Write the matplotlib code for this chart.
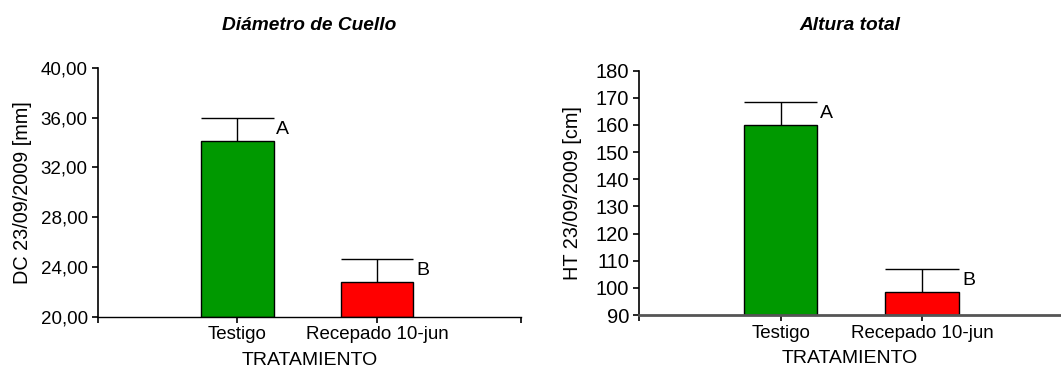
import matplotlib
matplotlib.use("Agg")
import matplotlib.pyplot as plt
from matplotlib.ticker import FuncFormatter

plt.rcParams["font.family"] = ["Liberation Sans", "DejaVu Sans"]
plt.rcParams["font.size"] = 13.5

# Tratamientos y resultados (media + error) al 23/09/2009
tratamientos = ["Testigo", "Recepado 10-jun"]
letras = ["A", "B"]
colores = ["#009900", "#ff0000"]

dc_media = [34.1, 22.8]
dc_error = [1.84, 1.84]

ht_media = [160.0, 98.4]
ht_error = [8.5, 8.4]

POS = [1, 2]
ANCHO = 0.52


def panel(ax, medias, errores, titulo, ylabel, ylim, yticks, fmt, xmax,
          title_pad, ylabel_pad, tick_size):
    ax.bar(POS, [m - ylim[0] for m in medias], bottom=ylim[0], width=ANCHO,
           color=colores, edgecolor="black", linewidth=1.0, zorder=2)

    # barra de error solo hacia arriba, con tope del ancho de la barra
    for x, m, e, letra in zip(POS, medias, errores, letras):
        ax.vlines(x, m, m + e, color="black", linewidth=1.0, zorder=1)
        ax.hlines(m + e, x - ANCHO / 2, x + ANCHO / 2, color="black", linewidth=1.0, zorder=1)
        ax.text(x + ANCHO / 2 + 0.02, m + e / 2, letra, ha="left", va="center",
                fontsize=14)

    ax.set_ylim(*ylim)
    ax.set_yticks(yticks)
    ax.yaxis.set_major_formatter(FuncFormatter(fmt))
    ax.set_xlim(0, xmax)
    ax.set_xticks([0] + POS)
    ax.set_xticklabels([""] + tratamientos)
    ax.set_xlabel("TRATAMIENTO", labelpad=6, fontsize=14)
    ax.set_ylabel(ylabel, labelpad=ylabel_pad, fontsize=14.3)
    ax.set_title(titulo, fontweight="bold", fontstyle="italic", pad=title_pad,
                 fontsize=13.8)

    ax.spines["top"].set_visible(False)
    ax.spines["right"].set_visible(False)
    ax.spines["left"].set_linewidth(1.2)
    ax.tick_params(axis="both", direction="out", length=4, width=1.2, pad=3)
    ax.tick_params(axis="y", labelsize=tick_size)


fig = plt.figure(figsize=(10.61, 3.69), dpi=100)
ax1 = fig.add_axes([0.0919, 0.1417, 0.3992, 0.6748])
ax2 = fig.add_axes([0.6023, 0.1463, 0.3977, 0.6621])

panel(ax1, dc_media, dc_error, "Diámetro de Cuello", "DC 23/09/2009 [mm]",
      (20, 40), [20, 24, 28, 32, 36, 40],
      lambda v, p: f"{v:.2f}".replace(".", ","), 3.03, 27, 6, 13.5)
ax1.set_xticks([0] + POS + [3.03])
ax1.set_xticklabels([""] + tratamientos + [""])
ax1.spines["bottom"].set_linewidth(1.0)

panel(ax2, ht_media, ht_error, "Altura total", "HT 23/09/2009 [cm]",
      (90, 180), list(range(90, 181, 10)),
      lambda v, p: f"{v:.0f}", 2.98, 29, 10, 14.5)
ax2.spines["bottom"].set_color("#555555")
ax2.spines["bottom"].set_linewidth(2.0)

fig.savefig("out.png", dpi=100)
